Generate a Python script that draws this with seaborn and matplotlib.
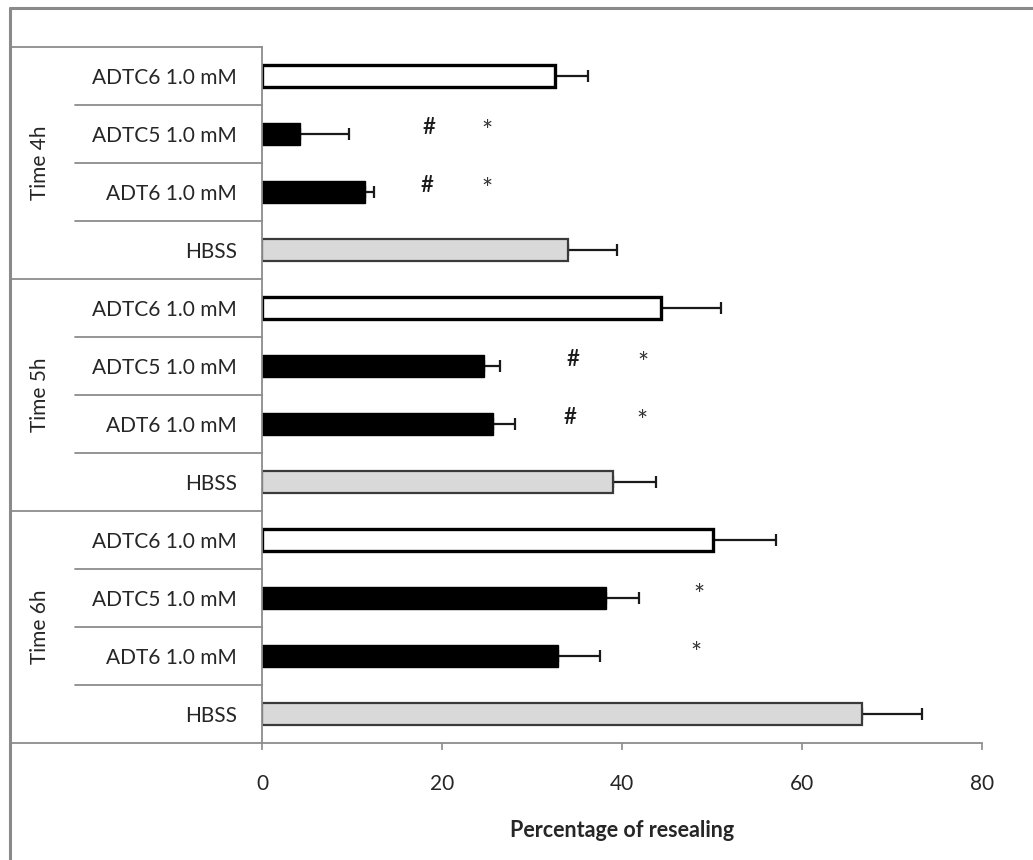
import matplotlib
matplotlib.use("Agg")
import matplotlib.pyplot as plt
import matplotlib.transforms as mtrans
import numpy as np
import pandas as pd
import seaborn as sns

# ===== data =====
groups = ["Time 4h", "Time 5h", "Time 6h"]
treatments = ["ADTC6 1.0 mM", "ADTC5 1.0 mM", "ADT6 1.0 mM", "HBSS"]

means_4h = [32.6, 4.2, 11.4, 34.0]
means_5h = [44.3, 24.7, 25.7, 39.0]
means_6h = [50.1, 38.2, 32.9, 66.7]

err_4h = [3.6, 5.5, 1.0, 5.4]
err_5h = [6.7, 1.7, 2.4, 4.8]
err_6h = [7.0, 3.7, 4.7, 6.6]

# significance marks: row index (top = 0), x position, symbol
mark_rows = [1, 1, 2, 2, 5, 5, 6, 6, 9, 10]
mark_x = [18.5, 25.0, 18.3, 25.0, 34.6, 42.3, 34.2, 42.2, 48.6, 48.2]
mark_sym = ["#", "*", "#", "*", "#", "*", "#", "*", "*", "*"]

x_ticks = [0, 20, 40, 60, 80]

# ===== styling =====
sns.set_style("white")
plt.rcParams["font.family"] = ["Lato", "DejaVu Sans"]

fill_colors = {"ADTC6 1.0 mM": "#ffffff", "ADTC5 1.0 mM": "#000000",
               "ADT6 1.0 mM": "#000000", "HBSS": "#d9d9d9"}
edge_colors = {"ADTC6 1.0 mM": "#000000", "ADTC5 1.0 mM": "#000000",
               "ADT6 1.0 mM": "#000000", "HBSS": "#3a3a3a"}
edge_widths = {"ADTC6 1.0 mM": 2.4, "ADTC5 1.0 mM": 1.0,
               "ADT6 1.0 mM": 1.0, "HBSS": 1.6}

rows = []
for g, m, e in zip(groups, [means_4h, means_5h, means_6h], [err_4h, err_5h, err_6h]):
    for t, v, s in zip(treatments, m, e):
        rows.append({"row": f"{g}|{t}", "group": g, "treatment": t, "value": v, "err": s})
df = pd.DataFrame(rows)
n = len(df)

W, H = 1033, 860
fig = plt.figure(figsize=(W / 100, H / 100), dpi=100)
ax = fig.add_axes([262 / W, 1 - 743 / H, 720 / W, 696 / H])

sns.barplot(data=df, x="value", y="row", hue="treatment", hue_order=treatments,
            palette=fill_colors, order=list(df["row"]), dodge=False, width=0.38,
            orient="h", errorbar=None, legend=False, ax=ax)

for bar in ax.patches:
    idx = int(round(bar.get_y() + bar.get_height() / 2))
    t = df["treatment"].iloc[idx]
    bar.set_edgecolor(edge_colors[t])
    bar.set_linewidth(edge_widths[t])
    bar.set_zorder(2)

# plus-only error bars
ax.errorbar(df["value"], np.arange(n), xerr=[np.zeros(n), df["err"]], fmt="none",
            ecolor="#1a1a1a", elinewidth=1.6, capsize=4.5, capthick=1.6, zorder=1)

for r, x, s in zip(mark_rows, mark_x, mark_sym):
    if s == "#":
        ax.text(x, r - 0.12, s, ha="center", va="center", fontsize=16,
                color="#1a1a1a", fontweight="semibold")
    else:
        ax.text(x, r - 0.02, s, ha="center", va="center", fontsize=19, color="#333333")

ax.set_xlim(0, 80)
ax.set_ylim(n - 0.5, -0.5)
ax.set_xticks(x_ticks)
ax.set_xticklabels([str(v) for v in x_ticks])
ax.set_yticks(range(n))
ax.set_yticklabels(list(df["treatment"]))
ax.tick_params(axis="y", length=0, pad=18, labelsize=15, labelcolor="#262626")
ax.tick_params(axis="x", direction="out", length=5, width=1.2, color="#8c8c8c",
               pad=17, labelsize=15, labelcolor="#262626", bottom=True)
ax.set_ylabel("")
ax.set_xlabel("Percentage of resealing", fontsize=15.5, fontweight="bold",
              color="#262626", labelpad=19)

for side in ["top", "right"]:
    ax.spines[side].set_visible(False)
for side in ["left", "bottom"]:
    ax.spines[side].set_color("#8c8c8c")
    ax.spines[side].set_linewidth(1.3)

# category table on the left (multi-level axis)
tr = mtrans.blended_transform_factory(fig.transFigure, ax.transData)
line_kw = dict(color="#8c8c8c", lw=1.3, transform=tr, clip_on=False)
for yb in [-0.5, 3.5, 7.5, 11.5]:
    ax.plot([10 / W, 262 / W], [yb, yb], **line_kw)
for gi in range(len(groups)):
    for k in range(1, len(treatments)):
        yb = gi * len(treatments) + k - 0.5
        ax.plot([75 / W, 262 / W], [yb, yb], **line_kw)
for gi, g in enumerate(groups):
    yc = gi * len(treatments) + (len(treatments) - 1) / 2
    ax.text(40 / W, yc, g, rotation=90, ha="center", va="center",
            fontsize=15, color="#262626", transform=tr)

# outer chart frame
frame_kw = dict(color="#8a8a8a", lw=2.2, transform=fig.transFigure)
fig.add_artist(plt.Line2D([10 / W, 1], [1 - 8 / H, 1 - 8 / H], **frame_kw))
fig.add_artist(plt.Line2D([10 / W, 10 / W], [0, 1 - 8 / H], **frame_kw))

fig.savefig("out.png", dpi=100, facecolor="white")
